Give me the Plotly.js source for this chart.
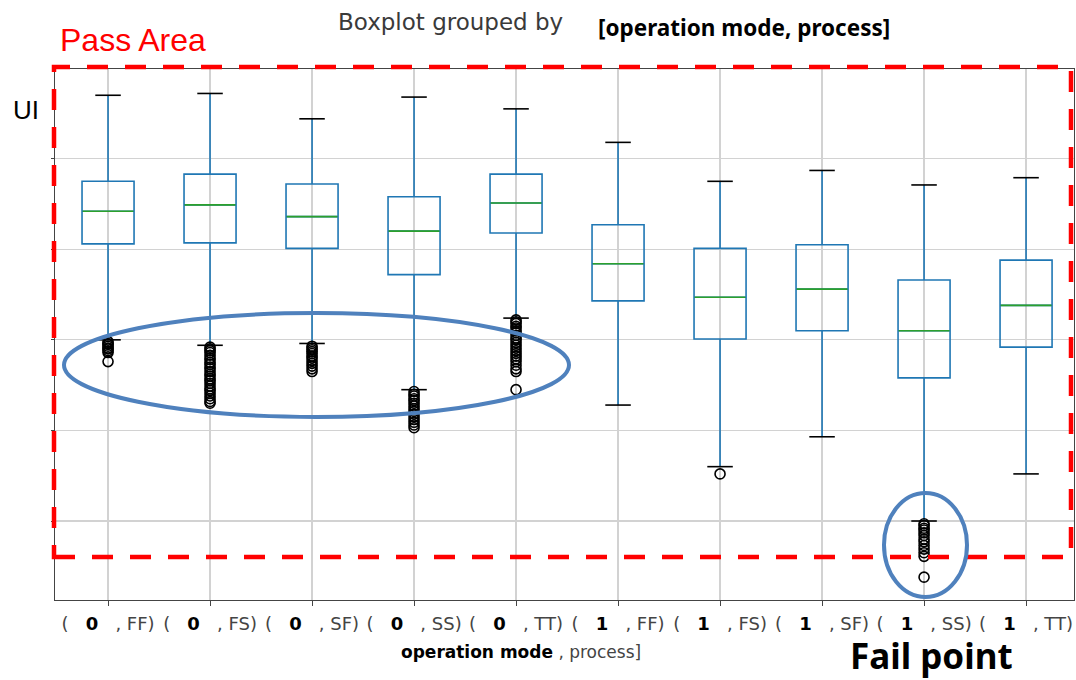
<!DOCTYPE html>
<html>
<head>
<meta charset="utf-8">
<script src="https://cdn.plot.ly/plotly-3.0.1.min.js"></script>
<style>
  html, body { margin: 0; padding: 0; background: #fff; }
  #chart { width: 1076px; height: 680px; }
</style>
</head>
<body>
<div id="chart"></div>
<script>
// Groups: (operation mode, process)
const modes = ['0', '0', '0', '0', '0', '1', '1', '1', '1', '1'];
const processes = ['FF', 'FS', 'SF', 'SS', 'TT', 'FF', 'FS', 'SF', 'SS', 'TT'];

// Box statistics per group (UI)
const upperWhisker = [5.70, 5.72, 5.44, 5.68, 5.55, 5.18, 4.75, 4.87, 4.71, 4.79];
const q3 = [4.75, 4.83, 4.72, 4.58, 4.83, 4.27, 4.01, 4.05, 3.66, 3.88];
const median = [4.42, 4.49, 4.36, 4.20, 4.51, 3.84, 3.47, 3.56, 3.10, 3.38];
const q1 = [4.06, 4.07, 4.01, 3.72, 4.18, 3.43, 3.01, 3.10, 2.58, 2.92];
const lowerWhisker = [3.00, 2.94, 2.96, 2.45, 3.24, 2.28, 1.60, 1.93, 1.00, 1.52];

// Outliers per group
const fliers = [
  [2.98, 2.96, 2.95, 2.93, 2.91, 2.90, 2.88, 2.86, 2.76],
  [2.92, 2.90, 2.88, 2.86, 2.83, 2.80, 2.78, 2.75, 2.73, 2.70, 2.68, 2.65, 2.62,
   2.60, 2.57, 2.55, 2.52, 2.49, 2.46, 2.44, 2.41, 2.38, 2.35, 2.32, 2.30],
  [2.93, 2.91, 2.89, 2.87, 2.85, 2.82, 2.80, 2.77, 2.74, 2.71, 2.68, 2.65],
  [2.43, 2.40, 2.38, 2.35, 2.33, 2.30, 2.27, 2.24, 2.21, 2.18, 2.15, 2.12, 2.09, 2.06, 2.03],
  [3.22, 3.20, 3.18, 3.15, 3.13, 3.10, 3.08, 3.05, 3.02, 3.00, 2.97, 2.94, 2.91,
   2.88, 2.85, 2.82, 2.79, 2.76, 2.72, 2.68, 2.65, 2.45],
  [],
  [1.52],
  [],
  [0.97, 0.95, 0.92, 0.90, 0.87, 0.84, 0.80, 0.77, 0.73, 0.69, 0.65, 0.61, 0.38],
  []
];

const positions = processes.map((_, i) => i + 1);
const SP = '\u00a0\u00a0\u00a0';
const tickLabels = processes.map((p, i) =>
  '(' + SP + '<span style="color:#000"><b>' + modes[i] + '</b></span>' + SP + ', ' + p + ')');

const BLUE = '#1f77b4', GREEN = '#2ca02c';
const BOX_W = 0.51, CAP_HALF = 0.125;

// Helper: build segment traces (x0..x1 at level y) for each group
function segments(levels, half) {
  const xs = [], ys = [];
  levels.forEach((v, i) => {
    xs.push(positions[i] - half, positions[i] + half, null);
    ys.push(v, v, null);
  });
  return { xs, ys };
}

const traces = [];

traces.push({
  type: 'box',
  x: positions,
  q1: q1, median: median, q3: q3,
  lowerfence: lowerWhisker, upperfence: upperWhisker,
  width: BOX_W,
  whiskerwidth: 0,
  boxpoints: false,
  fillcolor: 'rgba(0,0,0,0)',
  line: { color: BLUE, width: 1.6 },
  hoverinfo: 'skip',
  showlegend: false
});

// Medians
const med = segments(median, BOX_W / 2 - 0.006);
traces.push({ type: 'scatter', mode: 'lines', x: med.xs, y: med.ys,
  line: { color: GREEN, width: 1.6 }, hoverinfo: 'skip', showlegend: false });

// Whisker caps
const capLo = segments(lowerWhisker, CAP_HALF);
const capHi = segments(upperWhisker, CAP_HALF);
traces.push({ type: 'scatter', mode: 'lines',
  x: capLo.xs.concat(capHi.xs), y: capLo.ys.concat(capHi.ys),
  line: { color: '#000', width: 1.6 }, hoverinfo: 'skip', showlegend: false });

// Outliers
const fx = [], fy = [];
fliers.forEach((arr, i) => arr.forEach(v => { fx.push(positions[i]); fy.push(v); }));
traces.push({ type: 'scatter', mode: 'markers', x: fx, y: fy,
  marker: { symbol: 'circle-open', size: 10, color: '#000', line: { width: 1.6, color: '#000' } },
  hoverinfo: 'skip', showlegend: false });

// Pixel -> paper helpers for the 1076x680 canvas
const M = { l: 55, r: 2, t: 69, b: 80 };
const PW = 1076 - M.l - M.r, PH = 680 - M.t - M.b;
const px = v => (v - M.l) / PW;
const py = v => (680 - M.b - v) / PH;

const RED = '#ff0000', OUTLINE = '#4f81bd';

const layout = {
  width: 1076, height: 680,
  margin: M,
  paper_bgcolor: '#fff', plot_bgcolor: '#fff',
  showlegend: false,
  xaxis: {
    range: [0.48, 10.47],
    tickmode: 'array', tickvals: positions, ticktext: tickLabels,
    showgrid: true, gridcolor: '#d2d2d2', gridwidth: 1.3,
    zeroline: false,
    showline: true, mirror: true, linecolor: '#444', linewidth: 1.2,
    ticks: 'outside', ticklen: 5, tickcolor: '#444',
    ticklabelstandoff: 2,
    tickfont: { family: 'DejaVu Sans', size: 18, color: '#444' }
  },
  yaxis: {
    range: [0.128, 5.99],
    tickmode: 'linear', tick0: 0, dtick: 1,
    showticklabels: false,
    showgrid: true, gridcolor: '#d2d2d2', gridwidth: 1.3,
    zeroline: false,
    showline: true, mirror: true, linecolor: '#444', linewidth: 1.2,
    ticks: 'outside', ticklen: 3, tickcolor: '#444'
  },
  shapes: [
    // Pass area
    { type: 'rect', xref: 'paper', yref: 'paper', layer: 'above',
      x0: px(54), x1: px(1071), y0: py(557), y1: py(67),
      line: { color: RED, width: 4.5, dash: '21px,17px' } },
    // Outlier groups
    { type: 'circle', xref: 'paper', yref: 'paper', layer: 'above',
      x0: px(64), x1: px(569), y0: py(417), y1: py(313),
      line: { color: OUTLINE, width: 4 } },
    { type: 'circle', xref: 'paper', yref: 'paper', layer: 'above',
      x0: px(884), x1: px(967), y0: py(597), y1: py(493),
      line: { color: OUTLINE, width: 4 } }
  ],
  annotations: [
    { text: 'Boxplot grouped by', xref: 'paper', yref: 'paper', x: px(336), y: py(22),
      xanchor: 'left', yanchor: 'middle', showarrow: false,
      font: { family: 'DejaVu Sans', size: 23, color: '#3a3a3a' } },
    { text: '<b>[operation mode, process]</b>', xref: 'paper', yref: 'paper', x: px(596), y: py(27),
      xanchor: 'left', yanchor: 'middle', showarrow: false,
      font: { family: 'Noto Sans', size: 22.5, color: '#000' } },
    { text: 'Pass Area', xref: 'paper', yref: 'paper', x: px(58), y: py(40),
      xanchor: 'left', yanchor: 'middle', showarrow: false,
      font: { family: 'Liberation Sans', size: 32, color: RED } },
    { text: 'UI', xref: 'paper', yref: 'paper', x: px(11), y: py(110),
      xanchor: 'left', yanchor: 'middle', showarrow: false,
      font: { family: 'Liberation Sans', size: 26, color: '#000' } },
    { text: '<span style="color:#000"><b>operation mode</b></span> , process]',
      xref: 'paper', yref: 'paper', x: px(399), y: py(652),
      xanchor: 'left', yanchor: 'middle', showarrow: false,
      font: { family: 'DejaVu Sans', size: 17, color: '#444' } },
    { text: '<b>Fail point</b>', xref: 'paper', yref: 'paper', x: px(848), y: py(655),
      xanchor: 'left', yanchor: 'middle', showarrow: false,
      font: { family: 'Noto Sans', size: 35, color: '#000' } }
  ]
};

Plotly.newPlot('chart', traces, layout, { displayModeBar: false, staticPlot: true });
</script>
</body>
</html>
